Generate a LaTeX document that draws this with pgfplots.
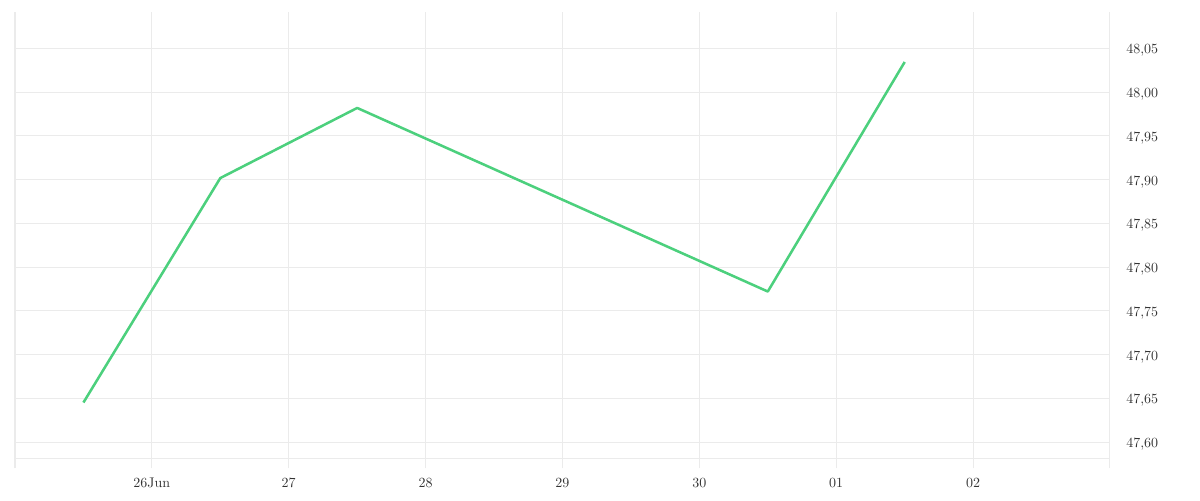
\documentclass[border=0pt]{standalone}
\usepackage{pgfplots}
\pgfplotsset{compat=1.18}
\definecolor{gridgray}{HTML}{EBEBEB}
\definecolor{linegreen}{HTML}{4CD07D}
\definecolor{textgray}{HTML}{333333}
\begin{document}
\begin{tikzpicture}
\path[use as bounding box] (-11.25pt,-31.275pt) rectangle (888.75pt,343.725pt);
\begin{axis}[
  at={(0,0)}, anchor=south west,
  scale only axis,
  width=821.25pt, height=334.725pt,
  xmin=25, xmax=33,
  ymin=47.5817, ymax=48.0915,
  axis line style={draw=none},
  xmajorgrids, ymajorgrids,
  grid style={draw=gridgray, line width=0.75pt},
  xtick={26,27,28,29,30,31,32},
  xticklabels={26Jun,27,28,29,30,01,02},
  extra x ticks={25,33},
  extra x tick labels={},
  extra x tick style={grid=major},
  extra y ticks={47.5817},
  extra y tick labels={},
  extra y tick style={grid=major},
  ytick={47.60,47.65,47.70,47.75,47.80,47.85,47.90,47.95,48.00,48.05},
  xtick pos=bottom,
  ytick pos=right,
  yticklabel pos=right,
  tick align=outside,
  major tick length=7.5pt,
  x tick style={draw=gridgray, line width=0.75pt},
  y tick style={draw=none},
  ticklabel style={font=\fontsize{10.5}{12.5}\selectfont, text=textgray},
  xticklabel style={inner sep=0pt, yshift=-7.1pt},
  yticklabel style={anchor=west, inner sep=0pt, xshift=4.5pt, yshift=-1.5pt},
  /pgf/number format/.cd, use comma, fixed, fixed zerofill, precision=2, assume math mode=true,
]
\addplot[linegreen, line width=1.9pt, line join=round, mark=none] coordinates {
  (25.5,47.6454)
  (26.5,47.9018)
  (27.5,47.9819)
  (30.5,47.7722)
  (31.5,48.0344)
};
\end{axis}
\end{tikzpicture}
\end{document}
